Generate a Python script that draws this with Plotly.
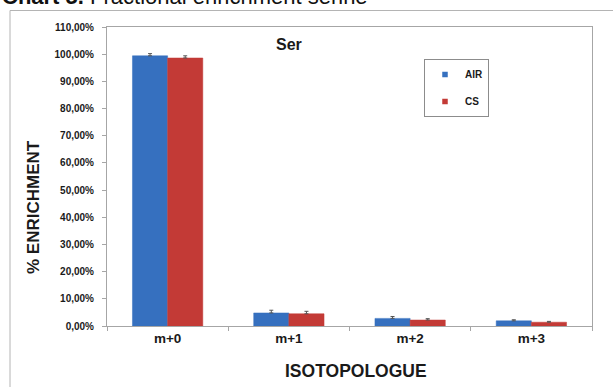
import plotly.graph_objects as go

# Isotopologue fractional enrichment of serine (fraction of total pool)
categories = ["m+0", "m+1", "m+2", "m+3"]
air_values = [0.994, 0.048, 0.028, 0.019]
cs_values = [0.986, 0.045, 0.022, 0.014]
air_err = [0.008, 0.010, 0.007, 0.004]
cs_err = [0.008, 0.009, 0.005, 0.003]
series_names = ["AIR", "CS"]
y_ticks = [i / 10 for i in range(12)]

BLUE = "#3670bf"
RED = "#c33a36"
AXIS_GREY = "#a6a6a6"
FONT = "Liberation Sans, Arial, sans-serif"

fig = go.Figure()

for name, vals, errs, color in [
    (series_names[0], air_values, air_err, BLUE),
    (series_names[1], cs_values, cs_err, RED),
]:
    fig.add_trace(go.Bar(
        x=categories,
        y=vals,
        name=name,
        marker=dict(color=color, line=dict(color=color, width=0.5)),
        error_y=dict(type="data", array=errs, arrayminus=[0] * len(errs),
                     symmetric=False, color="#555555", thickness=1, width=2),
        showlegend=False,
    ))
    # small square legend key
    fig.add_trace(go.Scatter(
        x=[None], y=[None], mode="markers", name=name,
        marker=dict(symbol="square", size=5.5, color=color),
        legendgroup=name,
    ))

L, R, T, B = 107, 21, 27, 61
W, H = 613, 387
pw, ph = W - L - R, H - T - B


def px_x(X):
    return (X - L) / pw


def px_y(Y):
    return (H - B - Y) / ph


fig.update_layout(
    width=W, height=H,
    margin=dict(l=L, r=R, t=T, b=B, pad=0),
    paper_bgcolor="white", plot_bgcolor="white",
    separators=",.",
    barmode="group", bargap=0.42, bargroupgap=0,
    font=dict(family=FONT, color="#1a1a1a"),
    xaxis=dict(
        type="category",
        showline=True, linecolor=AXIS_GREY, linewidth=1, mirror=True,
        ticks="outside", tickson="boundaries", ticklen=4, tickcolor=AXIS_GREY,
        tickfont=dict(size=13.5, family=FONT, weight="bold", color="#1a1a1a"),
        showgrid=False, zeroline=False,
    ),
    yaxis=dict(
        range=[0, 1.1],
        tickvals=y_ticks, tickformat=".2%",
        showline=True, linecolor=AXIS_GREY, linewidth=1, mirror=True,
        ticks="outside", ticklen=4, tickcolor=AXIS_GREY,
        ticklabelstandoff=6,
        tickfont=dict(size=10, family=FONT, weight="bold", color="#1a1a1a"),
        showgrid=False, zeroline=False,
    ),
    legend=dict(
        x=px_x(424), y=px_y(59), xanchor="left", yanchor="top",
        bordercolor="#8c8c8c", borderwidth=1, bgcolor="white",
        font=dict(size=10, family=FONT, weight="bold", color="#1a1a1a"),
        itemwidth=30, tracegroupgap=8,
    ),
    showlegend=True,
)

# outer chart frame
fig.add_shape(type="rect", xref="paper", yref="paper",
              x0=px_x(10), x1=px_x(640), y0=px_y(420), y1=px_y(10.5),
              line=dict(color="#b4b4b4", width=1), fillcolor="rgba(0,0,0,0)",
              layer="below")

# heading above the frame
fig.add_annotation(xref="paper", yref="paper", x=px_x(0), y=px_y(11),
                   xanchor="left", yanchor="bottom", showarrow=False,
                   text="<b>Chart 5.</b> Fractional enrichment serine",
                   font=dict(size=22, family=FONT, color="#111111"))

# panel title
fig.add_annotation(xref="paper", yref="paper", x=px_x(289), y=px_y(45),
                   xanchor="center", yanchor="middle", showarrow=False,
                   text="<b>Ser</b>", font=dict(size=16, family=FONT, color="#1a1a1a"))

# axis titles
fig.add_annotation(xref="paper", yref="paper", x=px_x(33), y=px_y(207),
                   xanchor="center", yanchor="middle", showarrow=False,
                   textangle=-90, text="<b>% ENRICHMENT</b>",
                   font=dict(size=17, family=FONT, color="#1a1a1a"))
fig.add_annotation(xref="paper", yref="paper", x=px_x(356), y=px_y(371),
                   xanchor="center", yanchor="middle", showarrow=False,
                   text="<b>ISOTOPOLOGUE</b>",
                   font=dict(size=17.5, family=FONT, color="#1a1a1a"))

fig.write_html("out.html")
